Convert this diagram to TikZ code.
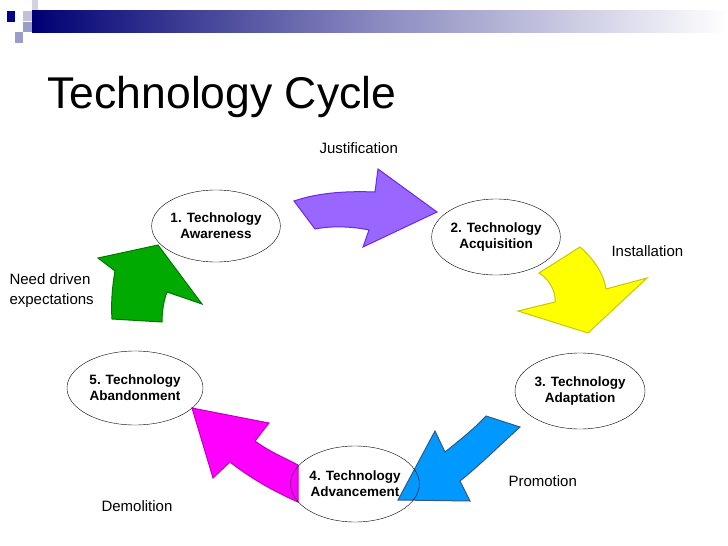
\documentclass[tikz,border=0pt]{standalone}
\usepackage{fontspec}
\setmainfont{Liberation Sans}
\usetikzlibrary{shapes.geometric}
\definecolor{pfill}{RGB}{153,102,255}
\definecolor{pline}{RGB}{110,40,230}
\definecolor{yfill}{RGB}{255,255,0}
\definecolor{yline}{RGB}{200,200,0}
\definecolor{bfill}{RGB}{0,153,255}
\definecolor{bline}{RGB}{50,90,130}
\definecolor{mfill}{RGB}{255,0,255}
\definecolor{mline}{RGB}{190,0,190}
\definecolor{gfill}{RGB}{0,170,0}
\definecolor{gline}{RGB}{0,120,0}
\begin{document}
\begin{tikzpicture}[x=1pt,y=-1pt,
  stage/.style={draw=black,thin,ellipse,inner sep=0pt,font=\fontsize{13.5}{16}\selectfont\bfseries,align=center},
  lbl/.style={font=\fontsize{15}{20}\selectfont,align=left}]
\useasboundingbox (0,0) rectangle (728,546);
\fill[white] (0,0) rectangle (728,546);
% banner
\shade[left color=blue!45!black, right color=white, middle color=blue!30!gray!70] (32,10) rectangle (728,32);
\fill[blue!55!black] (7,11) rectangle (15,22);
\fill[blue!15!gray!30] (32,0) rectangle (38,10);
\fill[blue!20!gray!40] (23,11) rectangle (32,21);
\fill[blue!30!gray!60] (23,22) rectangle (32,32);
\fill[blue!30!gray!60] (15,32) rectangle (23,43);
\node[anchor=base west,font=\fontsize{44.5}{48}\selectfont] (title) at (44,108) {Technology Cycle};
% arrows
\fill[draw=pline,fill=pfill,line width=1pt]
 (294,201) .. controls (320,192) and (350,191) .. (375,192) -- (378,169) -- (437,212) -- (363,247) -- (369,230)
 .. controls (350,226) and (330,226) .. (315,229) -- cycle;
\fill[draw=yline,fill=yfill,line width=1pt]
 (539,273) -- (580,247) .. controls (595,260) and (604,275) .. (606,289) -- (647,278) -- (588,333) -- (518,311) -- (555,302)
 .. controls (556,292) and (550,280) .. cycle;
\fill[draw=bline,fill=bfill,line width=1pt]
 (486,416) -- (520,427) .. controls (500,445) and (480,465) .. (460,481) -- (470,501) -- (398,500) -- (435,431) -- (445,452)
 .. controls (460,440) and (475,428) .. cycle;
\fill[draw=mline,fill=mfill,line width=1pt]
 (192,408) -- (269,423) -- (255,441) .. controls (270,452) and (285,458) .. (298,465) -- (298,502)
 .. controls (275,492) and (250,478) .. (230,462) -- (213,478) -- cycle;
\fill[draw=gline,fill=gfill,line width=1pt]
 (112,319) -- (162,322) .. controls (162,310) and (164,300) .. (167,292) -- (202,304) -- (158,245) -- (98,258) -- (115,271)
 .. controls (112,288) and (111,305) .. cycle;
% stages
\node[stage,minimum width=128pt,minimum height=72pt] (s1) at (216,226) {1. Technology\\Awareness};
\node[stage,minimum width=128pt,minimum height=76pt] (s2) at (496,237) {2. Technology\\Acquisition};
\node[stage,minimum width=130pt,minimum height=76pt] (s3) at (580,391) {3. Technology\\Adaptation};
\node[stage,minimum width=128pt,minimum height=76pt] (s4) at (355,484) {4. Technology\\Advancement};
\node[stage,minimum width=136pt,minimum height=74pt] (s5) at (135,388) {5. Technology\\Abandonment};
% labels
\node[lbl,anchor=base west] (l1) at (316,153) {Justification};
\node[lbl,anchor=base west] (l2) at (608,256) {Installation};
\node[lbl,anchor=base west] (l3) at (505,486) {Promotion};
\node[lbl,anchor=base west] (l4) at (98,511) {Demolition};
\node[lbl,anchor=north west] (l5) at (6,270) {Need driven\\expectations};
\end{tikzpicture}
\end{document}
